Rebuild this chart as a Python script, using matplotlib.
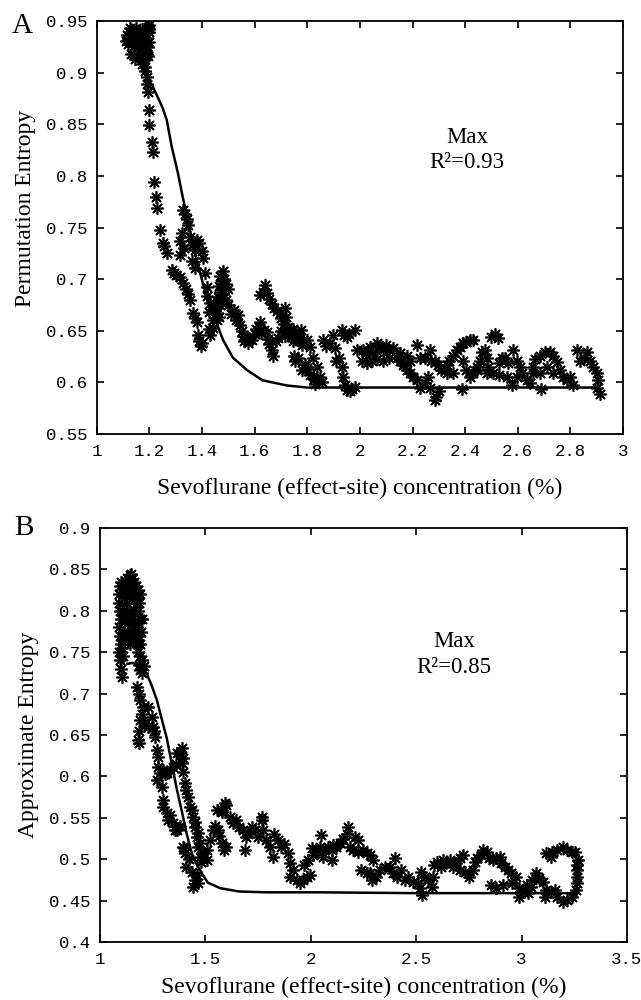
import matplotlib
matplotlib.use("Agg")
import matplotlib.pyplot as plt

# ---------------- Panel A : Permutation Entropy ----------------
pe_conc = [
 1.115,1.12,1.125,1.13,1.135,1.14,1.145,1.15,1.155,1.16,1.165,1.17,1.175,1.18,1.185,1.19,1.195,1.20,1.20,1.195,
 1.12,1.14,1.16,1.175,1.19,1.13,1.145,1.16,1.18,1.195,1.17,1.185,1.2,1.2,1.19,1.11,1.125,1.15,
 1.185,1.19,1.19,1.195,1.198,1.20,1.209,1.213,1.217,1.224,1.228,1.24,1.251,1.257,1.266,1.285,1.295,1.30,1.316,1.327,
 1.34,1.346,1.354,1.365,1.372,1.38,1.384,1.39,1.40,1.395,
 1.327,1.335,1.342,1.346,1.323,1.316,1.316,1.33,1.354,1.36,1.38,1.39,1.373,1.40,1.403,1.361,1.373,1.41,1.418,1.418,
 1.43,1.425,1.44,1.44,1.43,1.425,1.445,
 1.456,1.46,1.465,1.47,1.475,1.48,1.485,1.49,1.47,1.48,1.50,1.49,1.50,1.51,1.52,1.53,1.47,1.46,1.45,1.465,1.455,
 1.535,1.545,1.55,1.555,1.56,1.57,1.575,1.58,1.59,1.60,1.605,1.615,1.62,1.625,1.635,1.645,1.65,1.655,1.665,1.67,1.68,1.69,
 1.62,1.63,1.64,1.645,1.655,1.665,1.675,1.685,1.695,1.70,1.715,1.71,1.72,1.725,1.735,1.745,1.755,1.765,1.77,1.775,
 1.78,1.785,1.70,1.715,1.725,1.745,1.75,1.755,1.765,1.78,1.79,1.80,1.81,1.80,1.82,1.81,1.825,1.83,1.837,1.848,1.855,
 1.86,1.87,1.886,1.897,1.905,1.91,1.92,1.93,1.935,1.945,1.95,1.962,1.97,1.98,1.93,1.94,1.95,1.96,1.98,1.99,
 2.007,2.01,2.025,2.04,2.05,2.065,2.075,2.087,2.10,2.11,2.125,2.027,2.046,2.065,2.087,2.11,2.14,2.152,2.165,2.18,
 2.19,2.20,2.217,2.228,2.217,2.228,2.247,2.266,2.27,2.26,2.247,2.266,2.29,2.285,2.30,2.285,2.297,2.31,2.33,2.34,
 2.354,2.37,2.38,2.39,2.405,2.418,2.43,2.33,2.354,2.387,2.39,2.405,2.418,2.43,2.445,2.456,2.464,2.475,2.483,2.487,
 2.50,2.513,2.525,2.483,2.506,2.53,2.54,2.55,2.563,2.58,2.597,2.608,2.56,2.578,2.597,2.616,2.635,2.646,2.658,2.665,
 2.684,2.703,2.722,2.734,2.71,2.684,2.69,2.734,2.76,2.772,2.787,2.80,2.81,2.825,2.837,2.85,2.863,2.875,2.886,2.90,
 2.905,2.90,2.913,2.75,2.658,2.53,2.445,2.19,2.18,2.152,
]
pe_vals = [
 0.936,0.932,0.939,0.934,0.941,0.930,0.937,0.933,0.940,0.928,0.935,0.942,0.931,0.938,0.927,0.934,0.944,0.939,0.930,0.925,
 0.928,0.926,0.922,0.920,0.918,0.918,0.913,0.915,0.912,0.916,0.908,0.905,0.946,0.942,0.941,0.931,0.943,0.943,
 0.902,0.896,0.889,0.881,0.864,0.849,0.833,0.823,0.794,0.780,0.769,0.748,0.735,0.732,0.725,0.709,0.706,0.704,0.702,0.696,
 0.690,0.686,0.680,0.667,0.662,0.658,0.646,0.640,0.638,0.635,
 0.767,0.763,0.758,0.752,0.745,0.737,0.723,0.730,0.741,0.733,0.738,0.735,0.728,0.727,0.720,0.718,0.711,0.706,0.692,0.684,
 0.677,0.668,0.660,0.653,0.646,0.652,0.672,
 0.667,0.683,0.693,0.703,0.698,0.708,0.700,0.695,0.688,0.686,0.690,0.680,0.675,0.666,0.670,0.660,0.675,0.679,0.670,0.663,0.660,
 0.665,0.656,0.650,0.645,0.640,0.642,0.638,0.643,0.641,0.647,0.652,0.654,0.658,0.648,0.651,0.649,0.642,0.637,0.631,0.626,0.640,0.643,
 0.685,0.688,0.694,0.687,0.681,0.676,0.672,0.669,0.667,0.662,0.672,0.657,0.663,0.654,0.651,0.652,0.648,0.645,0.640,0.651,
 0.636,0.641,0.650,0.645,0.647,0.640,0.626,0.621,0.624,0.612,0.618,0.613,0.634,0.641,0.624,0.607,0.603,0.598,0.615,0.605,0.600,
 0.641,0.635,0.638,0.646,0.633,0.621,0.624,0.615,0.605,0.597,0.593,0.592,0.594,0.596,0.651,0.646,0.644,0.647,0.651,0.631,
 0.621,0.631,0.628,0.634,0.629,0.638,0.634,0.631,0.636,0.631,0.633,0.619,0.621,0.623,0.621,0.624,0.624,0.621,0.617,0.612,
 0.609,0.605,0.602,0.595,0.636,0.624,0.624,0.631,0.621,0.605,0.599,0.595,0.586,0.583,0.592,0.621,0.617,0.612,0.617,0.621,
 0.626,0.631,0.634,0.638,0.639,0.641,0.641,0.609,0.609,0.594,0.621,0.612,0.605,0.609,0.612,0.621,0.629,0.631,0.624,0.615,
 0.644,0.647,0.643,0.609,0.609,0.607,0.624,0.624,0.619,0.631,0.621,0.615,0.605,0.597,0.605,0.609,0.602,0.599,0.609,0.623,
 0.626,0.629,0.629,0.626,0.615,0.609,0.594,0.609,0.612,0.605,0.602,0.605,0.597,0.631,0.621,0.624,0.629,0.621,0.615,0.609,
 0.602,0.595,0.589,0.620,0.615,0.619,0.615,0.621,0.626,0.628,
]
pe_fit_conc = [1.17,1.19,1.21,1.232,1.25,1.266,1.285,1.308,1.327,1.346,1.373,1.403,1.43,1.456,1.48,1.517,1.57,1.63,1.722,1.80,2.2,2.6,2.9]
pe_fit_vals = [0.905,0.896,0.888,0.876,0.866,0.854,0.828,0.803,0.779,0.757,0.725,0.696,0.673,0.657,0.641,0.624,0.612,0.602,0.597,0.595,0.595,0.595,0.595]

# ---------------- Panel B : Approximate Entropy ----------------
apen_conc = [
 1.09,1.095,1.10,1.09,1.095,1.10,1.09,1.095,1.10,1.09,1.095,1.10,1.105,1.11,1.105,1.11,1.115,1.11,1.115,1.12,1.125,1.115,
 1.13,1.14,1.145,1.15,1.155,1.16,1.13,1.14,1.15,1.16,1.13,1.14,1.15,1.16,1.135,1.145,1.155,1.13,1.14,1.15,1.16,1.125,1.165,
 1.17,1.18,1.175,1.185,1.18,1.19,1.175,1.185,1.19,1.18,1.19,1.20,1.195,1.20,1.21,1.185,1.175,1.17,1.195,1.2,1.19,
 1.19,1.175,1.185,1.19,1.204,1.229,1.19,1.185,1.18,1.185,1.20,1.21,1.229,1.245,1.25,1.26,1.255,1.27,1.277,1.277,1.285,
 1.27,1.30,1.31,1.317,1.33,1.348,1.36,1.363,1.38,1.39,1.395,1.39,1.395,1.403,1.41,1.417,1.425,1.435,1.44,1.45,1.45,
 1.46,1.466,1.465,1.474,1.474,1.48,1.49,1.507,1.51,1.52,1.536,1.545,1.56,1.565,1.578,1.59,1.60,
 1.293,1.30,1.30,1.317,1.322,1.33,1.348,1.355,1.363,1.38,1.395,1.40,1.403,1.41,1.42,1.435,1.44,1.46,1.465,1.45,
 1.553,1.578,1.60,1.615,1.63,1.645,1.66,1.68,1.695,1.69,1.70,1.72,1.735,1.75,1.767,1.775,1.79,1.805,1.82,1.825,
 1.845,1.86,1.875,1.89,1.90,1.915,1.90,1.933,1.948,1.595,1.58,1.767,
 1.962,1.98,1.995,1.97,1.986,2.01,2.005,2.03,2.043,2.05,2.057,2.066,2.08,2.10,2.10,2.104,2.12,2.137,2.152,2.17,
 2.175,2.185,2.21,2.223,2.20,2.223,2.246,2.265,2.28,2.294,2.24,2.265,2.29,2.28,2.31,2.327,2.35,2.374,2.40,2.39,
 2.41,2.43,2.445,2.46,2.483,2.507,2.53,2.517,2.525,2.54,2.555,2.573,2.58,2.587,2.60,2.62,2.627,2.644,2.66,2.673,
 2.69,2.706,2.72,2.706,2.73,2.753,2.77,2.777,2.79,2.81,2.815,2.834,2.848,2.863,2.88,2.896,2.857,2.88,2.91,2.905,
 2.92,2.934,2.952,2.976,2.957,2.99,2.99,3.005,3.03,3.024,3.047,3.052,3.07,3.085,3.10,3.118,3.11,3.142,3.157,3.17,
 3.195,3.218,3.24,3.26,3.265,3.265,3.265,3.265,3.27,3.118,3.142,3.147,3.17,3.195,3.218,3.24,3.255,
]
apen_vals = [
 0.820,0.830,0.835,0.810,0.800,0.790,0.780,0.770,0.760,0.750,0.740,0.730,0.720,0.745,0.755,0.765,0.775,0.800,0.815,0.825,0.835,0.790,
 0.840,0.843,0.845,0.838,0.830,0.835,0.825,0.820,0.815,0.820,0.810,0.800,0.790,0.800,0.785,0.775,0.780,0.770,0.760,0.765,0.770,0.795,0.785,
 0.830,0.825,0.815,0.810,0.800,0.790,0.780,0.770,0.760,0.750,0.745,0.740,0.730,0.725,0.733,0.735,0.760,0.805,0.775,0.790,0.820,
 0.728,0.708,0.700,0.692,0.684,0.684,0.668,0.655,0.644,0.640,0.675,0.665,0.660,0.672,0.660,0.648,0.655,0.632,0.623,0.611,0.604,
 0.596,0.608,0.603,0.604,0.608,0.611,0.615,0.628,0.628,0.634,0.622,0.616,0.605,0.592,0.583,0.575,0.563,0.560,0.551,0.545,0.539,
 0.527,0.532,0.515,0.520,0.503,0.497,0.508,0.499,0.511,0.523,0.535,0.540,0.535,0.528,0.520,0.511,0.515,
 0.587,0.571,0.563,0.556,0.547,0.553,0.544,0.535,0.535,0.540,0.515,0.513,0.508,0.490,0.500,0.485,0.466,0.481,0.471,0.475,
 0.560,0.557,0.566,0.551,0.544,0.547,0.539,0.535,0.527,0.511,0.531,0.539,0.535,0.527,0.547,0.535,0.523,0.515,0.503,0.531,
 0.523,0.515,0.518,0.507,0.495,0.487,0.479,0.475,0.471,0.568,0.560,0.551,
 0.475,0.479,0.481,0.493,0.499,0.505,0.513,0.511,0.515,0.529,0.503,0.511,0.515,0.511,0.499,0.517,0.515,0.519,0.525,0.531,
 0.539,0.515,0.527,0.523,0.511,0.509,0.511,0.507,0.505,0.499,0.487,0.483,0.475,0.483,0.479,0.487,0.491,0.491,0.501,0.483,
 0.479,0.487,0.475,0.479,0.473,0.471,0.457,0.465,0.485,0.479,0.475,0.466,0.479,0.493,0.497,0.491,0.499,0.495,0.499,0.491,
 0.495,0.501,0.505,0.487,0.485,0.479,0.487,0.497,0.501,0.505,0.511,0.509,0.501,0.499,0.501,0.503,0.469,0.465,0.469,0.495,
 0.491,0.487,0.483,0.479,0.471,0.465,0.454,0.460,0.459,0.469,0.466,0.475,0.483,0.477,0.473,0.463,0.454,0.460,0.463,0.454,
 0.448,0.451,0.454,0.463,0.471,0.479,0.487,0.493,0.499,0.507,0.503,0.509,0.511,0.515,0.511,0.509,0.509,
]
apen_fit_conc = [1.13,1.157,1.19,1.22,1.245,1.27,1.29,1.317,1.34,1.365,1.39,1.41,1.44,1.474,1.51,1.57,1.66,1.79,2.03,2.5,3.0,3.27]
apen_fit_vals = [0.736,0.737,0.732,0.725,0.710,0.692,0.672,0.646,0.616,0.584,0.556,0.532,0.503,0.487,0.472,0.465,0.461,0.460,0.460,0.459,0.459,0.459]

panels = [
    dict(x=pe_conc, y=pe_vals, fx=pe_fit_conc, fy=pe_fit_vals, letter="A",
         ylabel="Permutation Entropy", r2="R\u00b2=0.93", ylab_y=0.545, xpad=14,
         xlim=(1, 3), xticks=[1, 1.2, 1.4, 1.6, 1.8, 2, 2.2, 2.4, 2.6, 2.8, 3],
         xlabels=["1", "1.2", "1.4", "1.6", "1.8", "2", "2.2", "2.4", "2.6", "2.8", "3"],
         ylim=(0.55, 0.95), yticks=[0.55, 0.6, 0.65, 0.7, 0.75, 0.8, 0.85, 0.9, 0.95],
         ylabels=["0.55", "0.6", "0.65", "0.7", "0.75", "0.8", "0.85", "0.9", "0.95"],
         pos=[0.151, 0.566, 0.821, 0.413], txt=(2.407, 0.825), let_y=0.988),
    dict(x=apen_conc, y=apen_vals, fx=apen_fit_conc, fy=apen_fit_vals, letter="B",
         ylabel="Approximate Entropy", r2="R\u00b2=0.85", ylab_y=0.5, xpad=7,
         xlim=(1, 3.5), xticks=[1, 1.5, 2, 2.5, 3, 3.5],
         xlabels=["1", "1.5", "2", "2.5", "3", "3.5"],
         ylim=(0.4, 0.9), yticks=[0.4, 0.45, 0.5, 0.55, 0.6, 0.65, 0.7, 0.75, 0.8, 0.85, 0.9],
         ylabels=["0.4", "0.45", "0.5", "0.55", "0.6", "0.65", "0.7", "0.75", "0.8", "0.85", "0.9"],
         pos=[0.156, 0.058, 0.822, 0.414], txt=(2.68, 0.747), let_y=1.0),
]

fig = plt.figure(figsize=(6.41, 10), dpi=100)
serif = "Liberation Serif"
mono = "Liberation Mono"

for p in panels:
    ax = fig.add_axes(p["pos"])
    ax.plot(p["x"], p["y"], linestyle="none", marker=(8, 2, 0), markersize=9,
            markeredgewidth=1.2, color="black")
    ax.plot(p["fx"], p["fy"], color="black", linewidth=1.8)
    ax.set_xlim(*p["xlim"])
    ax.set_ylim(*p["ylim"])
    ax.set_xticks(p["xticks"])
    ax.set_xticklabels(p["xlabels"], family=mono, fontsize=12.5)
    ax.set_yticks(p["yticks"])
    ax.set_yticklabels(p["ylabels"], family=mono, fontsize=12.5)
    ax.tick_params(direction="in", top=True, right=True, length=5, width=1.2, pad=7)
    for s in ax.spines.values():
        s.set_linewidth(1.3)
    ax.set_xlabel("Sevoflurane (effect-site) concentration (%)", family=serif,
                  fontsize=17, labelpad=p["xpad"])
    ax.set_ylabel(p["ylabel"], family=serif, fontsize=17, labelpad=6)
    ax.yaxis.set_label_coords(-0.115, p["ylab_y"])
    ax.text(p["txt"][0], p["txt"][1], "Max\n" + p["r2"], family=serif, fontsize=16.5,
            ha="center", va="center", linespacing=1.3)
    ax.text(-0.162, p["let_y"], p["letter"], transform=ax.transAxes, family=serif,
            fontsize=21, ha="left", va="center")

fig.savefig("out.png", dpi=100)
